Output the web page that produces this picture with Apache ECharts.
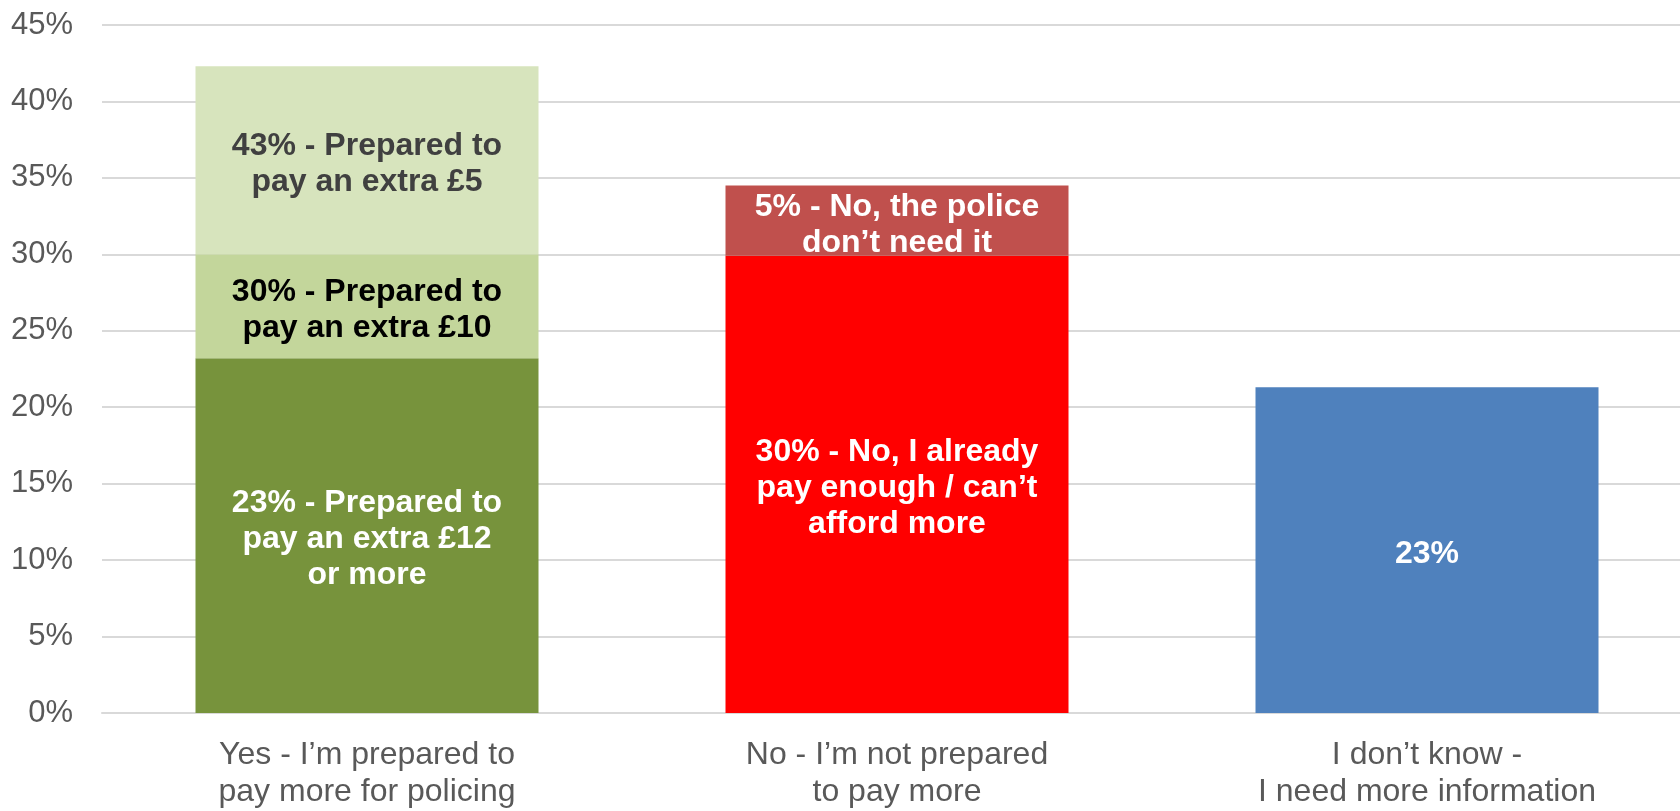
<!DOCTYPE html>
<html>
<head>
<meta charset="utf-8">
<script src="https://cdn.jsdelivr.net/npm/echarts@6/dist/echarts.min.js"></script>
<style>html,body{margin:0;padding:0;background:#fff}#c{width:1680px;height:811px}</style>
</head>
<body>
<div id="c"></div>
<script>
const categories = ["Yes - I\u2019m prepared to\npay more for policing", "No - I\u2019m not prepared\nto pay more", "I don\u2019t know -\nI need more information"];
const yTicks = {min: 0, max: 45, interval: 5};
const extra12 = [23.2, '-', '-'];
const extra10 = [6.8, '-', '-'];
const extra5 = [12.3, '-', '-'];
const payEnough = ['-', 29.9, '-'];
const dontNeed = ['-', 4.6, '-'];
const dontKnow = ['-', '-', 21.3];
const labelTexts = {
  extra12: "23% - Prepared to\npay an extra \u00a312\nor more",
  extra10: "30% - Prepared to\npay an extra \u00a310",
  extra5: "43% - Prepared to\npay an extra \u00a35",
  payEnough: "30% - No, I already\npay enough / can\u2019t\nafford more",
  dontNeed: "5% - No, the police\ndon\u2019t need it",
  dontKnow: "23%"
};

// layout: the category band in the original is 530px wide and the plot runs past the right edge
const GRID_LEFT = 102, CHART_W = 1680, BAND = 530;
const X_MIN = -0.5, X_MAX = X_MIN + (CHART_W - GRID_LEFT) / BAND;

const FONT = '"Liberation Sans", Arial, sans-serif';
function mk(name, values, color, text, textColor) {
  return {
    name, type: 'bar', stack: 'all', barWidth: 343,
    // value first so it is the stacked dimension; category position second
    data: values.map((v, i) => [v, i]),
    encode: {x: 1, y: 0},
    itemStyle: {color},
    label: {
      show: true, position: 'inside', formatter: text, offset: [0, 4],
      color: textColor, fontFamily: FONT, fontWeight: 'bold', fontSize: 32, lineHeight: 36
    },
    emphasis: {disabled: true}
  };
}
const chart = echarts.init(document.getElementById('c'));
chart.setOption({
  animation: false,
  grid: {left: GRID_LEFT, right: 0, top: 25, bottom: 92, containLabel: false},
  xAxis: {
    type: 'value', min: X_MIN, max: X_MAX, interval: 0.5,
    splitLine: {show: false},
    axisTick: {show: false},
    axisLine: {show: true, onZero: false, lineStyle: {color: '#D9D9D9', width: 2}},
    axisLabel: {
      showMinLabel: false, showMaxLabel: false,
      formatter: v => (Number.isInteger(v) && categories[v] !== undefined) ? categories[v] : '',
      color: '#595959', fontFamily: FONT, fontSize: 32, lineHeight: 37, margin: 24
    }
  },
  yAxis: {
    type: 'value', min: yTicks.min, max: yTicks.max, interval: yTicks.interval,
    axisLine: {show: false}, axisTick: {show: false},
    splitLine: {lineStyle: {color: '#D9D9D9', width: 2}},
    axisLabel: {formatter: '{value}%', color: '#595959', fontFamily: FONT, fontSize: 31, margin: 29}
  },
  series: [
    mk('extra12', extra12, '#77933C', labelTexts.extra12, '#FFFFFF'),
    mk('extra10', extra10, '#C3D69B', labelTexts.extra10, '#000000'),
    mk('extra5', extra5, '#D7E4BD', labelTexts.extra5, '#404040'),
    mk('payEnough', payEnough, '#FF0000', labelTexts.payEnough, '#FFFFFF'),
    mk('dontNeed', dontNeed, '#C0504D', labelTexts.dontNeed, '#FFFFFF'),
    mk('dontKnow', dontKnow, '#4F81BD', labelTexts.dontKnow, '#FFFFFF')
  ]
});
</script>
</body>
</html>
